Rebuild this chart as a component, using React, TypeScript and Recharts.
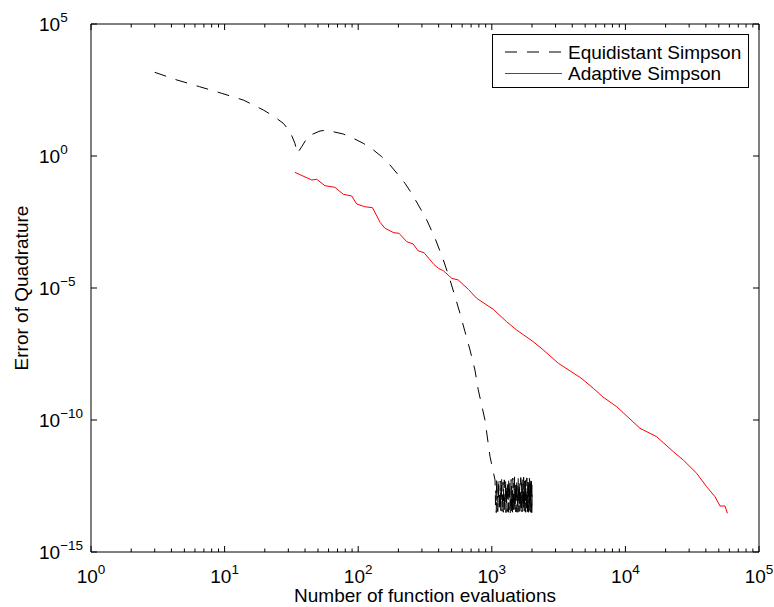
import React from "react";
import { LineChart, Line, XAxis, YAxis, Legend, Label } from "recharts";

// Equidistant Simpson: number of evaluations vs. error
const equidistantN = [
  3, 4.4, 6.5, 9.5, 13.8, 19.5, 23.2, 27.5, 30.9, 33.6, 35, 37.8, 42.3, 51.8, 56, 61.5, 77.3, 91.9,
  109, 130, 150, 173, 200, 224, 251, 282, 326, 376, 434, 487, 531, 578, 630, 687, 748, 792, 889,
  970, 1057,
];
const equidistantErr = [
  1480, 757, 422, 237, 132, 55.2, 32.7, 17.3, 8.32, 3.03, 1.26, 2.25, 5.73, 8.85, 9.3, 8.85, 6.81,
  4.68, 3.03, 1.69, 0.94, 0.456, 0.19, 0.0925, 0.0386, 0.0139, 0.00377, 7.64e-4, 1.15e-4, 2.01e-5,
  4.68e-6, 1.1e-6, 2.21e-7, 4.47e-8, 7.83e-9, 1.38e-9, 1e-10, 4.07e-12, 5.37e-13,
];
// round-off noise floor past ~1000 evaluations
const noiseN = [
  1059, 1066, 1073, 1080, 1087, 1094, 1101, 1108, 1115, 1122, 1129, 1136, 1143, 1150, 1157, 1164,
  1171, 1178, 1185, 1192, 1199, 1206, 1213, 1220, 1227, 1234, 1241, 1248, 1255, 1262, 1269, 1276,
  1283, 1290, 1297, 1304, 1311, 1318, 1325, 1332, 1339, 1346, 1353, 1360, 1367, 1374, 1381, 1388,
  1395, 1402, 1409, 1416, 1423, 1430, 1437, 1444, 1451, 1458, 1465, 1472, 1479, 1486, 1493, 1500,
  1507, 1514, 1521, 1528, 1535, 1542, 1549, 1556, 1563, 1570, 1577, 1584, 1591, 1598, 1605, 1612,
  1619, 1626, 1633, 1640, 1647, 1654, 1661, 1668, 1675, 1682, 1689, 1696, 1703, 1710, 1717, 1724,
  1731, 1738, 1745, 1752, 1759, 1766, 1773, 1780, 1787, 1794, 1801, 1808, 1815, 1822, 1829, 1836,
  1843, 1850, 1857, 1864, 1871, 1878, 1885, 1892, 1899, 1906, 1913, 1920, 1927, 1934, 1941, 1948,
  1955, 1962, 1969, 1976, 1983, 1990, 1997, 2004,
];
const noiseErr = [
  4.2e-13, 6e-14, 2.1e-13, 3.1e-14, 5.8e-13, 4.6e-14, 1.3e-13, 3.4e-14,
  6.5e-13, 8e-14, 3.3e-13, 3.2e-14, 1.8e-13, 5.2e-14, 4.9e-13, 3.1e-14,
  2.6e-13, 7e-14, 6.9e-13, 3.5e-14, 1.5e-13, 4.1e-14, 4.4e-13, 3.2e-14,
  2.9e-13, 9e-14, 5.4e-13, 3.3e-14, 1.2e-13, 6.2e-14, 6.2e-13, 3.1e-14,
  3.6e-13, 4.8e-14, 2e-13, 3.4e-14, 5.1e-13, 7.6e-14, 1.7e-13, 3.2e-14,
  6.7e-13, 3.9e-14, 2.5e-13, 8.4e-14, 4.7e-13, 3.1e-14, 1.4e-13, 5.6e-14,
  5.6e-13, 3.3e-14, 3.1e-13, 6.8e-14, 2.2e-13, 3.2e-14, 6.3e-13, 4.4e-14,
  1.6e-13, 3.5e-14, 4.1e-13, 9.2e-14, 7e-13, 3.1e-14, 2.7e-13, 5e-14,
  4.6e-13, 3.3e-14, 1.9e-13, 6.6e-14, 5.9e-13, 3.2e-14, 3.4e-13, 4.3e-14,
  1.3e-13, 3.1e-14, 6.1e-13, 7.4e-14, 2.4e-13, 3.4e-14, 5.3e-13, 5.4e-14,
  3e-13, 3.2e-14, 1.7e-13, 8.8e-14, 6.6e-13, 3.1e-14, 4.3e-13, 4.7e-14,
  2.1e-13, 3.3e-14, 5.7e-13, 6.4e-14, 1.5e-13, 3.2e-14, 3.8e-13, 7.9e-14,
  6.8e-13, 3.1e-14, 2.6e-13, 4.5e-14, 4.8e-13, 3.5e-14, 1.8e-13, 6.1e-14,
  5.5e-13, 3.2e-14, 3.2e-13, 8.2e-14, 2e-13, 3.1e-14, 6.4e-13, 4.2e-14,
  1.4e-13, 3.4e-14, 4.5e-13, 7.1e-14, 2.8e-13, 3.2e-14, 5.9e-13, 5.1e-14,
  2.3e-13, 3.1e-14, 6.2e-13, 6.7e-14, 1.6e-13, 3.3e-14, 4e-13, 8.6e-14,
  5.2e-13, 3.2e-14, 2.5e-13, 4.9e-14, 6.5e-13, 3.1e-14, 3.5e-13, 3.2e-14,
];

// Adaptive Simpson
const adaptiveN = [
  33.6, 44.9, 48.9, 56.4, 67, 77.4, 89.4, 97.5, 112, 128, 146, 159, 185, 202, 231, 258, 280, 311,
  369, 398, 434, 501, 561, 667, 771, 1026, 1291, 1535, 2046, 2432, 3148, 4652, 5754, 6792, 8610,
  12860, 17140, 22840, 27110, 34180, 40580, 46860, 51080, 55710, 57940,
];
const adaptiveErr = [
  0.241, 0.123, 0.131, 0.075, 0.065, 0.0354, 0.0305, 0.0152, 0.012, 0.011, 0.00303, 0.00182,
  0.00124, 0.00118, 5.68e-4, 4.64e-4, 2.59e-4, 2.17e-4, 7.76e-5, 5.57e-5, 4.52e-5, 2.33e-5, 2.01e-5,
  8.93e-6, 4.07e-6, 1.56e-6, 5.28e-7, 2.56e-7, 9.24e-8, 4.48e-8, 1.41e-8, 3.9e-9, 1.59e-9, 7.43e-10,
  3.19e-10, 4.85e-11, 2.33e-11, 6.3e-12, 3.05e-12, 9.57e-13, 2.97e-13, 1.24e-13, 5.52e-14, 5.52e-14,
  2.92e-14,
];

const seriesNames = ["Equidistant Simpson", "Adaptive Simpson"];
const seriesColors = ["#000000", "#ff0000"];

const xDecades = [1, 10, 100, 1000, 10000, 100000];
const xMinor = [2, 3, 4, 5, 6, 7, 8, 9];
const yTicks = [1e-15, 1e-10, 1e-5, 1, 1e5];

const xTicks = xDecades.flatMap((d, i) =>
  i < xDecades.length - 1 ? [d, ...xMinor.map((m) => m * d)] : [d]
);

const equidistantData = [
  ...equidistantN.map((n, i) => ({ x: n, y: equidistantErr[i] })),
  ...noiseN.map((n, i) => ({ x: n, y: noiseErr[i] })),
];
const adaptiveData = adaptiveN.map((n, i) => ({ x: n, y: adaptiveErr[i] }));

const W = 774;
const H = 607;
const LEFT = 91;
const RIGHT = 759;
const TOP = 24;
const BOTTOM = 552;
const FONT = "'Liberation Sans', Arial, Helvetica, sans-serif";
const DASH = "12 10";

const isMajor = (v: number) => Math.abs(Math.log10(v) - Math.round(Math.log10(v))) < 1e-9;
const expText = (v: number) => {
  const e = Math.round(Math.log10(v));
  return e < 0 ? `\u2212${-e}` : `${e}`;
};

const BottomTick = (props: any) => {
  const { x, payload } = props;
  const v = payload.value;
  const major = isMajor(v);
  const len = major ? 6 : 3.5;
  return (
    <g>
      <line x1={x} x2={x} y1={BOTTOM} y2={BOTTOM - len} stroke="#000" />
      {major && (
        <text x={x} y={BOTTOM + 31} textAnchor="middle" fontFamily={FONT} fontSize={19} fill="#000">
          10
          <tspan dy={-9} fontSize={13.5}>
            {expText(v)}
          </tspan>
        </text>
      )}
    </g>
  );
};

const TopTick = (props: any) => {
  const { x, payload } = props;
  const len = isMajor(payload.value) ? 6 : 3.5;
  return <line x1={x} x2={x} y1={TOP} y2={TOP + len} stroke="#000" />;
};

const LeftTick = (props: any) => {
  const { y, payload } = props;
  return (
    <g>
      <line x1={LEFT} x2={LEFT + 6} y1={y} y2={y} stroke="#000" />
      <text x={39} y={y + 7} textAnchor="start" fontFamily={FONT} fontSize={19} fill="#000">
        10
        <tspan dy={-9} fontSize={13.5}>
          {expText(payload.value)}
        </tspan>
      </text>
    </g>
  );
};

const RightTick = (props: any) => {
  const { y } = props;
  return <line x1={RIGHT} x2={RIGHT - 6} y1={y} y2={y} stroke="#000" />;
};

const LegendBox = () => (
  <svg width={257} height={54} style={{ display: "block" }}>
    <rect x={0.5} y={0.5} width={256} height={53} fill="#fff" stroke="#000" />
    {seriesNames.map((name, i) => {
      const cy = 18 + i * 21.5;
      return (
        <g key={name}>
          <line
            x1={13}
            x2={70}
            y1={cy}
            y2={cy}
            stroke={seriesColors[i]}
            strokeDasharray={i === 0 ? DASH : undefined}
          />
          <text x={76} y={cy + 6.5} fontFamily={FONT} fontSize={19} fill="#000">
            {name}
          </text>
        </g>
      );
    })}
  </svg>
);

export default function App() {
  return (
    <div style={{ position: "absolute", left: 0, top: 0, background: "#fff" }}>
      <LineChart
        width={W}
        height={H}
        margin={{ top: TOP - 1, right: W - RIGHT - 1, bottom: H - BOTTOM - 1, left: LEFT - 1 }}
      >
        <XAxis
          xAxisId="b"
          dataKey="x"
          type="number"
          scale="log"
          domain={[1, 100000]}
          allowDataOverflow
          ticks={xTicks}
          interval={0}
          height={1}
          tickLine={false}
          axisLine={{ stroke: "#000" }}
          tick={(p: any) => <BottomTick {...p} />}
        >
          <Label
            content={() => (
              <text
                x={(LEFT + RIGHT) / 2}
                y={BOTTOM + 50}
                textAnchor="middle"
                fontFamily={FONT}
                fontSize={19}
                fill="#000"
              >
                Number of function evaluations
              </text>
            )}
          />
        </XAxis>
        <XAxis
          xAxisId="t"
          orientation="top"
          dataKey="x"
          type="number"
          scale="log"
          domain={[1, 100000]}
          allowDataOverflow
          ticks={xTicks}
          interval={0}
          height={1}
          tickLine={false}
          axisLine={{ stroke: "#000" }}
          tick={(p: any) => <TopTick {...p} />}
        />
        <YAxis
          yAxisId="l"
          type="number"
          scale="log"
          domain={[1e-15, 1e5]}
          allowDataOverflow
          ticks={yTicks}
          interval={0}
          width={1}
          tickLine={false}
          axisLine={{ stroke: "#000" }}
          tick={(p: any) => <LeftTick {...p} />}
        >
          <Label
            content={() => {
              const cy = (TOP + BOTTOM) / 2;
              return (
                <text
                  x={28}
                  y={cy}
                  transform={`rotate(-90 28 ${cy})`}
                  textAnchor="middle"
                  fontFamily={FONT}
                  fontSize={19}
                  fill="#000"
                >
                  Error of Quadrature
                </text>
              );
            }}
          />
        </YAxis>
        <YAxis
          yAxisId="r"
          orientation="right"
          type="number"
          scale="log"
          domain={[1e-15, 1e5]}
          allowDataOverflow
          ticks={yTicks}
          interval={0}
          width={1}
          tickLine={false}
          axisLine={{ stroke: "#000" }}
          tick={(p: any) => <RightTick {...p} />}
        />
        <Legend
          layout="horizontal"
          verticalAlign="middle"
          align="center"
          content={() => <LegendBox />}
          wrapperStyle={{ left: 492, top: 34, width: 257, height: 54 }}
        />
        <Line
          xAxisId="b"
          yAxisId="l"
          data={equidistantData}
          dataKey="y"
          name={seriesNames[0]}
          stroke={seriesColors[0]}
          strokeWidth={1}
          strokeDasharray={DASH}
          dot={false}
          isAnimationActive={false}
        />
        <Line
          xAxisId="b"
          yAxisId="l"
          data={adaptiveData}
          dataKey="y"
          name={seriesNames[1]}
          stroke={seriesColors[1]}
          strokeWidth={1}
          dot={false}
          isAnimationActive={false}
        />
      </LineChart>
    </div>
  );
}
